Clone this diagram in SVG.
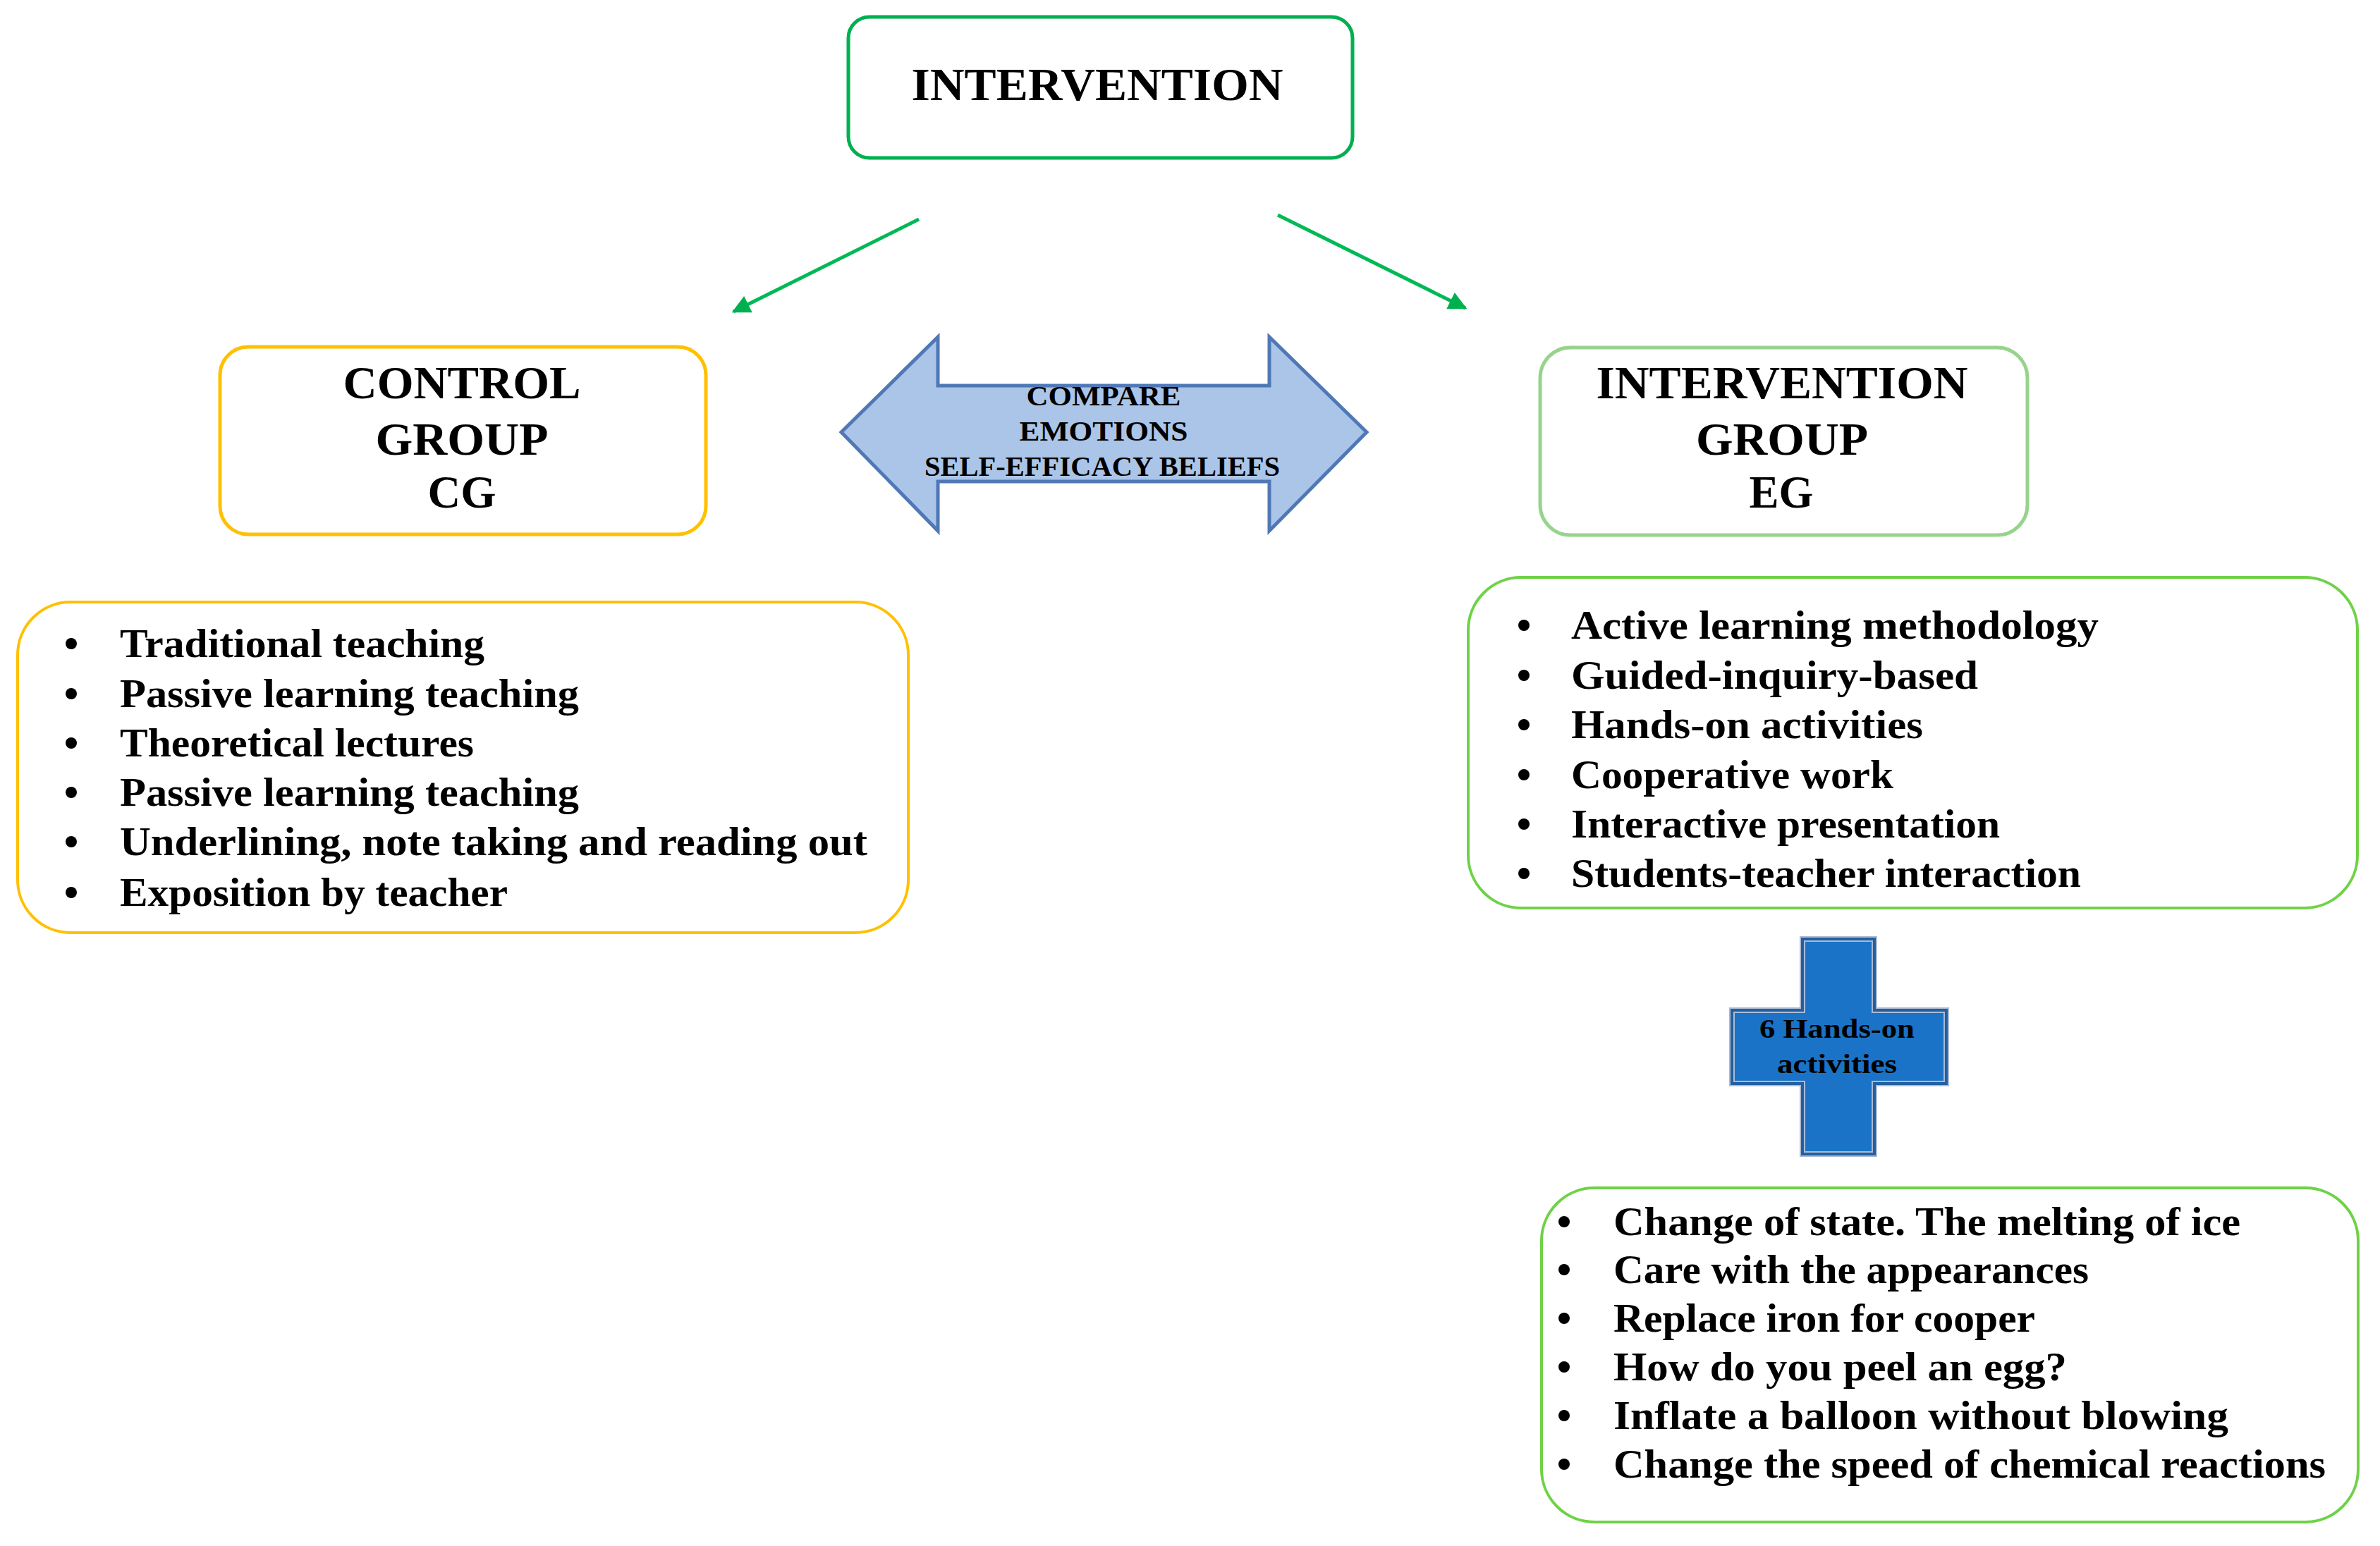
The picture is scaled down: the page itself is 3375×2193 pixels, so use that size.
<svg xmlns="http://www.w3.org/2000/svg" width="3375" height="2193" viewBox="0 0 3375 2193">
  <style>
    .hdr { font-family: "Liberation Serif", "Times New Roman", serif; font-size: 66px; font-weight: bold; fill: #000; text-anchor: middle; }
    .lst { font-family: "Liberation Serif", "Times New Roman", serif; font-size: 56px; font-weight: bold; fill: #000; }
    .arr { font-family: "Liberation Serif", "Times New Roman", serif; font-size: 40px; font-weight: bold; fill: #000; text-anchor: middle; }
    .crs { font-family: "Liberation Serif", "Times New Roman", serif; font-size: 38px; font-weight: bold; fill: #000; text-anchor: middle; }
    .bul { fill: #000; }
    .conn { stroke: #00b956; stroke-width: 5; fill: none; }
  </style>
  <defs>
    <marker id="ah" markerUnits="userSpaceOnUse" markerWidth="30" markerHeight="26" viewBox="0 0 10 10" refX="9" refY="5" orient="auto">
      <path d="M0,0 L10,5 L0,10 z" fill="#00b050"/>
    </marker>
  </defs>
  <rect width="3375" height="2193" fill="#ffffff"/>

  <g id="intervention">
    <rect x="1203" y="24" width="715" height="200" rx="30" ry="30" fill="#fff" stroke="#00b050" stroke-width="5"/>
    <text class="hdr" x="1556" y="142" textLength="527" lengthAdjust="spacingAndGlyphs">INTERVENTION</text>
  </g>

  <g id="connectors">
    <line class="conn" x1="1303" y1="311" x2="1040" y2="442" marker-end="url(#ah)"/>
    <line class="conn" x1="1812" y1="305" x2="2078" y2="437" marker-end="url(#ah)"/>
  </g>

  <g id="control-group">
    <rect x="312" y="492" width="689" height="266" rx="40" ry="40" fill="#fff" stroke="#ffc000" stroke-width="5"/>
    <text class="hdr" x="655" y="565" textLength="337" lengthAdjust="spacingAndGlyphs">CONTROL</text>
    <text class="hdr" x="655" y="645" textLength="245" lengthAdjust="spacingAndGlyphs">GROUP</text>
    <text class="hdr" x="655" y="720" textLength="97" lengthAdjust="spacingAndGlyphs">CG</text>
  </g>

  <g id="compare-arrow">
    <polygon points="1193,613 1330,478 1330,547 1800,547 1800,478 1938,613 1800,753 1800,683 1330,683 1330,753" fill="#abc5e8" stroke="#4f78b5" stroke-width="5" stroke-linejoin="miter"/>
    <text class="arr" x="1565" y="575" textLength="219" lengthAdjust="spacingAndGlyphs">COMPARE</text>
    <text class="arr" x="1565" y="625" textLength="239" lengthAdjust="spacingAndGlyphs">EMOTIONS</text>
    <text class="arr" x="1563" y="675" textLength="504" lengthAdjust="spacingAndGlyphs">SELF-EFFICACY BELIEFS</text>
  </g>

  <g id="intervention-group">
    <rect x="2184" y="493" width="691" height="266" rx="43" ry="43" fill="#fff" stroke="#96d48c" stroke-width="5"/>
    <text class="hdr" x="2527" y="565" textLength="527" lengthAdjust="spacingAndGlyphs">INTERVENTION</text>
    <text class="hdr" x="2527" y="645" textLength="244" lengthAdjust="spacingAndGlyphs">GROUP</text>
    <text class="hdr" x="2526" y="720" textLength="91" lengthAdjust="spacingAndGlyphs">EG</text>
  </g>

  <g id="control-list">
    <rect x="25" y="854" width="1263" height="469" rx="75" ry="75" fill="#fff" stroke="#ffc000" stroke-width="4"/>
    <circle class="bul" cx="101" cy="913" r="8"/>
    <text class="lst" x="170" y="932" textLength="517" lengthAdjust="spacingAndGlyphs">Traditional teaching</text>
    <circle class="bul" cx="101" cy="984" r="8"/>
    <text class="lst" x="170" y="1003" textLength="651" lengthAdjust="spacingAndGlyphs">Passive learning teaching</text>
    <circle class="bul" cx="101" cy="1054" r="8"/>
    <text class="lst" x="170" y="1073" textLength="502" lengthAdjust="spacingAndGlyphs">Theoretical lectures</text>
    <circle class="bul" cx="101" cy="1124" r="8"/>
    <text class="lst" x="170" y="1143" textLength="651" lengthAdjust="spacingAndGlyphs">Passive learning teaching</text>
    <circle class="bul" cx="101" cy="1194" r="8"/>
    <text class="lst" x="170" y="1213" textLength="1060" lengthAdjust="spacingAndGlyphs">Underlining, note taking and reading out</text>
    <circle class="bul" cx="101" cy="1266" r="8"/>
    <text class="lst" x="170" y="1285" textLength="550" lengthAdjust="spacingAndGlyphs">Exposition by teacher</text>
  </g>

  <g id="intervention-list">
    <rect x="2082" y="819" width="1261" height="469" rx="75" ry="75" fill="#fff" stroke="#6ed246" stroke-width="4"/>
    <circle class="bul" cx="2161" cy="887" r="8"/>
    <text class="lst" x="2228" y="906" textLength="748" lengthAdjust="spacingAndGlyphs">Active learning methodology</text>
    <circle class="bul" cx="2161" cy="958" r="8"/>
    <text class="lst" x="2228" y="977" textLength="577" lengthAdjust="spacingAndGlyphs">Guided-inquiry-based</text>
    <circle class="bul" cx="2161" cy="1028" r="8"/>
    <text class="lst" x="2228" y="1047" textLength="499" lengthAdjust="spacingAndGlyphs">Hands-on activities</text>
    <circle class="bul" cx="2161" cy="1099" r="8"/>
    <text class="lst" x="2228" y="1118" textLength="457" lengthAdjust="spacingAndGlyphs">Cooperative work</text>
    <circle class="bul" cx="2161" cy="1169" r="8"/>
    <text class="lst" x="2228" y="1188" textLength="608" lengthAdjust="spacingAndGlyphs">Interactive presentation</text>
    <circle class="bul" cx="2161" cy="1239" r="8"/>
    <text class="lst" x="2228" y="1258" textLength="723" lengthAdjust="spacingAndGlyphs">Students-teacher interaction</text>
  </g>

  <g id="hands-on-cross">
    <polygon points="2556,1332 2658,1332 2658,1433 2760,1433 2760,1537 2658,1537 2658,1637 2556,1637 2556,1537 2456,1537 2456,1433 2556,1433" fill="#1a73c6" stroke="#aabad4" stroke-width="8"/>
    <polygon points="2556,1332 2658,1332 2658,1433 2760,1433 2760,1537 2658,1537 2658,1637 2556,1637 2556,1537 2456,1537 2456,1433 2556,1433" fill="none" stroke="#24609f" stroke-width="4"/>
    <text class="crs" x="2605" y="1472" textLength="220" lengthAdjust="spacingAndGlyphs">6 Hands-on</text>
    <text class="crs" x="2605" y="1522" textLength="170" lengthAdjust="spacingAndGlyphs">activities</text>
  </g>

  <g id="activities-list">
    <rect x="2186" y="1685" width="1158" height="474" rx="75" ry="75" fill="#fff" stroke="#6ed246" stroke-width="4"/>
    <circle class="bul" cx="2218" cy="1733" r="8"/>
    <text class="lst" x="2288" y="1752" textLength="889" lengthAdjust="spacingAndGlyphs">Change of state. The melting of ice</text>
    <circle class="bul" cx="2218" cy="1801" r="8"/>
    <text class="lst" x="2288" y="1820" textLength="674" lengthAdjust="spacingAndGlyphs">Care with the appearances</text>
    <circle class="bul" cx="2218" cy="1870" r="8"/>
    <text class="lst" x="2288" y="1889" textLength="598" lengthAdjust="spacingAndGlyphs">Replace iron for cooper</text>
    <circle class="bul" cx="2218" cy="1939" r="8"/>
    <text class="lst" x="2288" y="1958" textLength="643" lengthAdjust="spacingAndGlyphs">How do you peel an egg?</text>
    <circle class="bul" cx="2218" cy="2008" r="8"/>
    <text class="lst" x="2288" y="2027" textLength="872" lengthAdjust="spacingAndGlyphs">Inflate a balloon without blowing</text>
    <circle class="bul" cx="2218" cy="2077" r="8"/>
    <text class="lst" x="2288" y="2096" textLength="1010" lengthAdjust="spacingAndGlyphs">Change the speed of chemical reactions</text>
  </g>
</svg>
